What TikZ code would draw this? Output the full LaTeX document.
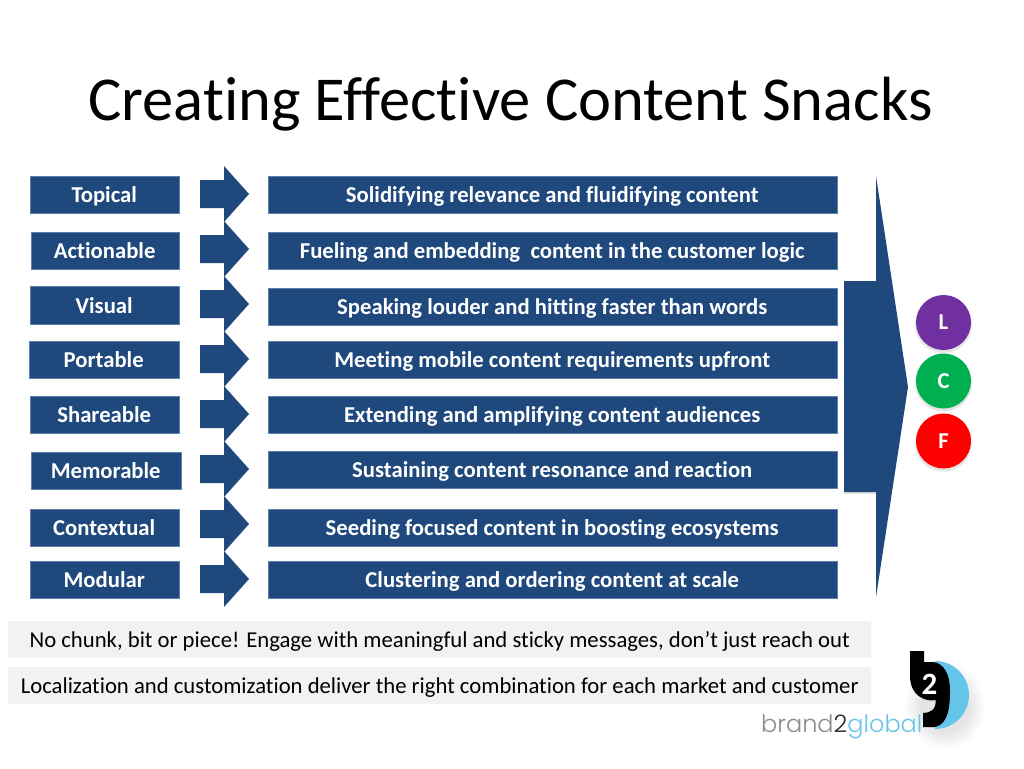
\documentclass[tikz,border=0pt]{standalone}
\usepackage{fontspec}
\setmainfont[Ligatures=NoCommon]{Carlito}
\newfontfamily\logofont{Poppins Light}
\definecolor{navy}{HTML}{1F497D}
\definecolor{navyedge}{HTML}{5F80A8}
\definecolor{barbg}{HTML}{F2F2F2}
\definecolor{logoblue}{HTML}{65C5E9}
\tikzset{
  tagbox/.style={fill=navy,draw=navyedge,line width=0.4pt,text=white,font=\fontsize{22.7}{24}\selectfont\bfseries,inner sep=0pt,anchor=north west,text height=16.4pt,text depth=0pt,xshift=-0.5pt},
  notebar/.style={fill=barbg,text=black,font=\fontsize{22.7}{24}\selectfont,inner sep=0pt,anchor=north west,minimum width=863pt,minimum height=37pt,text height=14.6pt,text depth=0pt},
  badge/.style={circle,minimum size=55pt,inner sep=0pt,text=white,font=\fontsize{22.7}{24}\selectfont\bfseries,text height=14.6pt,text depth=0pt},
  softshade/.style={fill=black,opacity=0.035,draw=none},
  logoshade/.style={fill=black,opacity=0.012,draw=none}
}
\begin{document}
\begin{tikzpicture}[x=1pt,y=-1pt]
\useasboundingbox[fill=white] (0,0) rectangle (1024,768);
\node[anchor=center,font=\fontsize{62.5}{66}\selectfont,text=black] (title) at (510.5,104) {Creating Effective Content Snacks};
% left boxes
\foreach \n/\xa/\xb/\ya/\yb/\t in {
 a/30/179/176/213/Topical, b/31/179/232/269/Actionable, c/30/179/286/324/Visual,
 d/29/179/341/378/Portable, e/30/179/396/433/Shareable, f/31/181/452/489/Memorable,
 g/30/179/509/546/Contextual, h/30/179/561/598/Modular}{
  \pgfmathsetmacro{\w}{\xb-\xa}\pgfmathsetmacro{\hh}{\yb-\ya}
  \node[tagbox,minimum width=\w pt,minimum height=\hh pt] (left\n) at (\xa,\ya) {\t};
}
% right boxes
\foreach \n/\ya/\t in {
 a/176/Solidifying relevance and fluidifying content,
 b/232/Fueling and embedding\ \ content in the customer logic,
 c/288/Speaking louder and hitting faster than words,
 d/341/Meeting mobile content requirements upfront,
 e/396/Extending and amplifying content audiences,
 f/451/Sustaining content resonance and reaction,
 g/509/Seeding focused content in boosting ecosystems,
 h/561/Clustering and ordering content at scale}{
  \node[tagbox,minimum width=569pt,minimum height=37pt] (right\n) at (268,\ya) {\t};
}
% small arrows
\foreach \c in {194,249,304,359,414,469,524,579}{
  \fill[navy] (200,\c-14) -- (224,\c-14) -- (224,\c-28) -- (249,\c) -- (224,\c+28) -- (224,\c+14) -- (200,\c+14) -- cycle;
}
% big arrow
\fill[black,opacity=0.12] (844,283) -- (876,283) -- (876,494) -- (844,494) -- cycle;
\fill[navy] (844,281) -- (876,281) -- (876,176) -- (908,387) -- (876,597) -- (876,492) -- (844,492) -- cycle;
% badges
\foreach \y in {322.5,381,441}{
  \foreach \r in {29,28.5,28}{\fill[softshade] (943.5,\y+2) circle (\r);}
}
\node[badge,fill={rgb,255:red,112;green,48;blue,160}] (badgeL) at (943.5,322.5) {L};
\node[badge,fill={rgb,255:red,0;green,176;blue,80}] (badgeC) at (943.5,381) {C};
\node[badge,fill={rgb,255:red,255;green,0;blue,0}] (badgeF) at (943.5,441) {F};
% bottom bars
\node[notebar] (noteA) at (8,621) {No chunk, bit or piece! Engage with meaningful and sticky messages, don’t just reach out};
\node[notebar] (noteB) at (8,667) {Localization and customization deliver the right combination for each market and customer};
% logo shadow
\foreach \r in {24,26,28,30,32,34,36,38,40}{
  \fill[logoshade] (945,706) ellipse (\r pt and \r pt+3pt);
}
% logo word
\node[anchor=base west,inner sep=0pt,font=\logofont\fontsize{24}{28}\selectfont] (logoWord) at (761,732)
  {\textcolor{black!45}{brand}\textcolor{black!85}{2}\textcolor{logoblue}{global}};
% logo blue
\fill[logoblue] (935,661) arc (-90:90:34) -- cycle;
% logo black
\fill[black] (910,651) -- (924,651) -- (924,662)
  -- (933,662)
  .. controls (944,663) and (950,675) .. (950,690)
  .. controls (950,705) and (949,724) .. (935,727)
  -- (923,727) -- (923,713)
  .. controls (930,713) and (936,710) .. (936,700)
  .. controls (930,701) and (926,700) .. (922,698)
  .. controls (914,694) and (910,686) .. (910,676) -- cycle;
\node[text=white,font=\fontsize{31}{32}\selectfont\bfseries,inner sep=0pt] (logoTwo) at (929.5,684) {2};
\end{tikzpicture}
\end{document}
